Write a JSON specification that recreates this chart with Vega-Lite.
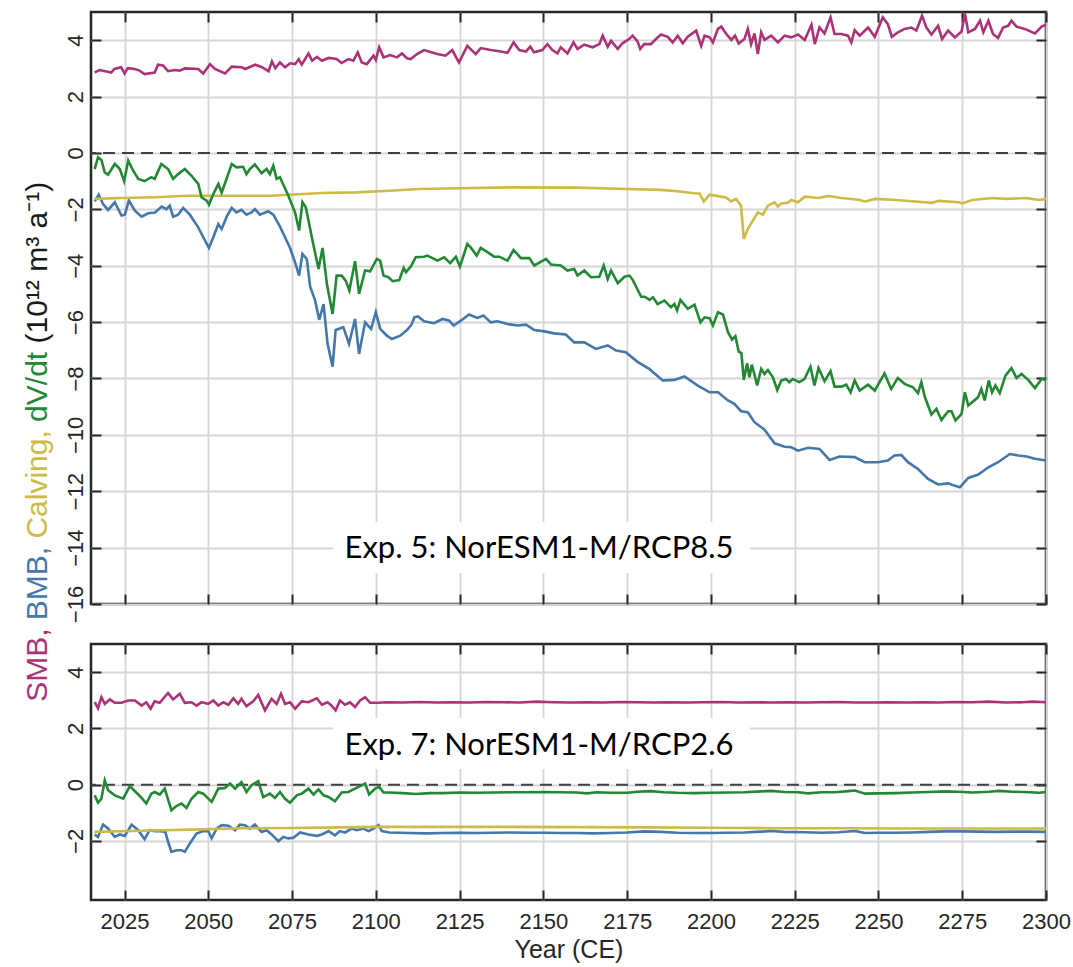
{
  "$schema": "https://vega.github.io/schema/vega-lite/v6.json",
  "background": "white",
  "padding": {"left": 21, "top": 6, "right": 5, "bottom": 5},
  "spacing": 40,
  "bounds": "flush",
  "config": {
    "view": {"stroke": "#262626", "strokeWidth": 2.5},
    "font": "Liberation Sans",
    "axis": {
      "domain": false,
      "tickColor": "#262626",
      "tickWidth": 2,
      "tickSize": -10,
      "gridColor": "#d6d6d6",
      "gridWidth": 1.8,
      "labelFont": "Liberation Sans",
      "labelFontSize": 22,
      "labelColor": "#262626",
      "labelFlush": false,
      "labelOverlap": false,
      "titleFont": "Liberation Sans",
      "titleFontSize": 25,
      "titleFontWeight": "normal",
      "titleColor": "#262626"
    }
  },
  "datasets": {
    "e5smb": [
      {"t":2016.1,"v":2.86},{"t":2017.6,"v":2.94},{"t":2021,"v":2.85},{"t":2022,"v":2.98},{"t":2024,"v":3.04},{"t":2025,"v":2.82},{"t":2026,"v":3.01},{"t":2028,"v":2.98},{"t":2029.5,"v":2.92},{"t":2031,"v":2.8},{"t":2034,"v":2.85},{"t":2035,"v":3.13},{"t":2036.5,"v":3.1},{"t":2038,"v":2.9},{"t":2040,"v":2.94},{"t":2041.5,"v":2.92},{"t":2043,"v":3.0},{"t":2047,"v":2.98},{"t":2048.5,"v":2.82},{"t":2050.5,"v":3.15},{"t":2052,"v":2.98},{"t":2055,"v":2.82},{"t":2057,"v":3.06},{"t":2060,"v":3.04},{"t":2061,"v":2.98},{"t":2064,"v":3.13},{"t":2066,"v":3.04},{"t":2068,"v":2.9},{"t":2069,"v":3.25},{"t":2070,"v":3.01},{"t":2071.4,"v":3.21},{"t":2072.9,"v":3.04},{"t":2074.4,"v":3.18},{"t":2075.9,"v":3.15},{"t":2077,"v":3.33},{"t":2077.9,"v":3.13},{"t":2079.9,"v":3.53},{"t":2081,"v":3.27},{"t":2082.4,"v":3.41},{"t":2083.9,"v":3.27},{"t":2085.9,"v":3.37},{"t":2088.3,"v":3.33},{"t":2089.8,"v":3.19},{"t":2091.8,"v":3.33},{"t":2093.3,"v":3.27},{"t":2094.6,"v":3.57},{"t":2095.8,"v":3.21},{"t":2097.3,"v":3.15},{"t":2099.3,"v":3.45},{"t":2100,"v":3.3},{"t":2101,"v":3.75},{"t":2102.3,"v":3.39},{"t":2104.3,"v":3.47},{"t":2106.3,"v":3.39},{"t":2107.8,"v":3.53},{"t":2109.3,"v":3.36},{"t":2110.4,"v":3.33},{"t":2112.3,"v":3.51},{"t":2114.4,"v":3.65},{"t":2118.3,"v":3.51},{"t":2120.8,"v":3.45},{"t":2122.8,"v":3.65},{"t":2124.8,"v":3.21},{"t":2127.3,"v":3.8},{"t":2129.8,"v":3.51},{"t":2131.3,"v":3.72},{"t":2134.3,"v":3.65},{"t":2137.3,"v":3.6},{"t":2139.3,"v":3.55},{"t":2141.1,"v":3.92},{"t":2142.8,"v":3.65},{"t":2144.8,"v":3.6},{"t":2146.1,"v":3.77},{"t":2147.2,"v":3.57},{"t":2149.7,"v":3.65},{"t":2151.2,"v":3.86},{"t":2152.7,"v":3.65},{"t":2154.2,"v":3.53},{"t":2155.2,"v":3.75},{"t":2157.2,"v":3.53},{"t":2159,"v":3.92},{"t":2160.2,"v":3.69},{"t":2162.2,"v":3.84},{"t":2164.7,"v":3.75},{"t":2166.7,"v":3.86},{"t":2167.7,"v":4.16},{"t":2169.2,"v":3.77},{"t":2170.2,"v":3.98},{"t":2172.2,"v":3.69},{"t":2173.6,"v":3.89},{"t":2175.6,"v":4.04},{"t":2176.6,"v":4.16},{"t":2178.1,"v":3.96},{"t":2178.9,"v":3.69},{"t":2180.1,"v":3.86},{"t":2182.1,"v":3.86},{"t":2183.6,"v":4.04},{"t":2185.1,"v":4.2},{"t":2187.1,"v":4.12},{"t":2188.6,"v":3.92},{"t":2190.1,"v":4.16},{"t":2191.6,"v":3.89},{"t":2193.1,"v":4.12},{"t":2195.6,"v":4.34},{"t":2197.1,"v":3.8},{"t":2198.1,"v":4.16},{"t":2199.6,"v":4.1},{"t":2200.6,"v":3.92},{"t":2202.1,"v":4.4},{"t":2203.1,"v":4.48},{"t":2204.6,"v":4.22},{"t":2206.1,"v":4.01},{"t":2207.2,"v":4.16},{"t":2208.3,"v":3.88},{"t":2210,"v":4.04},{"t":2211,"v":4.4},{"t":2212,"v":3.86},{"t":2213,"v":4.24},{"t":2214,"v":3.51},{"t":2215,"v":4.28},{"t":2216,"v":4.01},{"t":2218,"v":4.16},{"t":2220,"v":3.92},{"t":2222,"v":4.16},{"t":2224,"v":4.1},{"t":2226,"v":4.2},{"t":2228,"v":4.01},{"t":2230,"v":4.55},{"t":2231,"v":3.86},{"t":2232.4,"v":4.45},{"t":2233.9,"v":4.24},{"t":2235.7,"v":4.81},{"t":2236.9,"v":4.22},{"t":2238.9,"v":4.22},{"t":2240.9,"v":4.16},{"t":2241.9,"v":3.92},{"t":2242.9,"v":4.36},{"t":2244.4,"v":4.16},{"t":2246.9,"v":4.45},{"t":2248.9,"v":4.12},{"t":2251.3,"v":4.81},{"t":2252.8,"v":4.57},{"t":2254,"v":4.12},{"t":2255.8,"v":4.28},{"t":2257.8,"v":4.4},{"t":2259.8,"v":4.45},{"t":2261.3,"v":4.34},{"t":2263,"v":4.87},{"t":2264.3,"v":4.45},{"t":2265.8,"v":4.2},{"t":2267.8,"v":4.51},{"t":2269,"v":4.04},{"t":2270.8,"v":4.34},{"t":2272.8,"v":4.1},{"t":2274.8,"v":4.31},{"t":2275.8,"v":4.95},{"t":2276.8,"v":4.28},{"t":2278.8,"v":4.4},{"t":2280.3,"v":4.69},{"t":2281.3,"v":4.28},{"t":2282.8,"v":4.69},{"t":2284.2,"v":4.22},{"t":2285.7,"v":4.08},{"t":2287.2,"v":4.45},{"t":2288.7,"v":4.51},{"t":2289.7,"v":4.69},{"t":2291.2,"v":4.48},{"t":2293.7,"v":4.4},{"t":2296.7,"v":4.24},{"t":2298.7,"v":4.48},{"t":2300,"v":4.55}
    ],
    "e5cal": [
      {"t":2016,"v":-1.63},{"t":2024,"v":-1.6},{"t":2034,"v":-1.57},{"t":2044,"v":-1.52},{"t":2059,"v":-1.52},{"t":2069,"v":-1.52},{"t":2074,"v":-1.48},{"t":2084,"v":-1.42},{"t":2094,"v":-1.4},{"t":2104,"v":-1.34},{"t":2113,"v":-1.28},{"t":2125,"v":-1.25},{"t":2140,"v":-1.22},{"t":2160,"v":-1.23},{"t":2175,"v":-1.28},{"t":2185,"v":-1.31},{"t":2190,"v":-1.36},{"t":2193,"v":-1.4},{"t":2195,"v":-1.43},{"t":2196.6,"v":-1.44},{"t":2197.9,"v":-1.72},{"t":2199.6,"v":-1.48},{"t":2203,"v":-1.55},{"t":2204.5,"v":-1.58},{"t":2206,"v":-1.72},{"t":2207.5,"v":-1.63},{"t":2209,"v":-1.87},{"t":2209.8,"v":-3.05},{"t":2211,"v":-2.7},{"t":2214,"v":-2.11},{"t":2215.5,"v":-2.19},{"t":2217,"v":-1.87},{"t":2219,"v":-1.75},{"t":2220,"v":-1.9},{"t":2221,"v":-1.79},{"t":2223,"v":-1.77},{"t":2224,"v":-1.67},{"t":2226,"v":-1.75},{"t":2228,"v":-1.55},{"t":2232,"v":-1.6},{"t":2235,"v":-1.53},{"t":2239,"v":-1.6},{"t":2244,"v":-1.66},{"t":2246,"v":-1.72},{"t":2249,"v":-1.63},{"t":2254,"v":-1.66},{"t":2261,"v":-1.72},{"t":2266,"v":-1.77},{"t":2268,"v":-1.7},{"t":2274,"v":-1.75},{"t":2275,"v":-1.79},{"t":2278,"v":-1.67},{"t":2284,"v":-1.6},{"t":2288,"v":-1.63},{"t":2294,"v":-1.6},{"t":2298,"v":-1.67},{"t":2300,"v":-1.63}
    ],
    "e5dvdt": [
      {"t":2016.1,"v":-0.57},{"t":2017.1,"v":-0.15},{"t":2018.1,"v":-0.25},{"t":2019.1,"v":-0.69},{"t":2020.1,"v":-0.77},{"t":2022.1,"v":-0.39},{"t":2023.6,"v":-0.57},{"t":2024.9,"v":-1.0},{"t":2026.1,"v":-0.27},{"t":2027.6,"v":-0.63},{"t":2029.1,"v":-0.92},{"t":2031,"v":-1.0},{"t":2033,"v":-0.86},{"t":2034,"v":-0.92},{"t":2036,"v":-0.39},{"t":2038,"v":-0.57},{"t":2039.5,"v":-0.92},{"t":2041,"v":-0.75},{"t":2043,"v":-0.57},{"t":2045,"v":-0.81},{"t":2047,"v":-1.1},{"t":2048,"v":-1.57},{"t":2049.5,"v":-1.69},{"t":2050.2,"v":-1.83},{"t":2051.5,"v":-1.46},{"t":2053,"v":-1.1},{"t":2054,"v":-1.4},{"t":2057,"v":-0.39},{"t":2058.4,"v":-0.51},{"t":2060.4,"v":-0.49},{"t":2061.4,"v":-0.75},{"t":2062.4,"v":-0.57},{"t":2063.9,"v":-0.41},{"t":2065.9,"v":-0.72},{"t":2067.4,"v":-0.57},{"t":2068.4,"v":-0.75},{"t":2069.4,"v":-0.45},{"t":2070.4,"v":-0.92},{"t":2071.4,"v":-0.86},{"t":2073.9,"v":-1.52},{"t":2075.9,"v":-2.11},{"t":2077.1,"v":-2.75},{"t":2078.1,"v":-1.75},{"t":2079.1,"v":-1.93},{"t":2080.9,"v":-2.99},{"t":2082.9,"v":-4.12},{"t":2084.1,"v":-3.37},{"t":2085.4,"v":-4.65},{"t":2087.1,"v":-5.71},{"t":2088.3,"v":-4.35},{"t":2089.8,"v":-4.35},{"t":2091,"v":-4.53},{"t":2092.1,"v":-4.88},{"t":2093.8,"v":-3.84},{"t":2095,"v":-5.0},{"t":2096.8,"v":-4.17},{"t":2098.3,"v":-4.2},{"t":2100.3,"v":-3.76},{"t":2101.3,"v":-3.82},{"t":2102.3,"v":-4.35},{"t":2103.8,"v":-4.41},{"t":2105,"v":-4.55},{"t":2107,"v":-4.51},{"t":2108.3,"v":-4.08},{"t":2109,"v":-4.23},{"t":2110.6,"v":-4.0},{"t":2111.9,"v":-3.7},{"t":2114.4,"v":-3.68},{"t":2115.4,"v":-3.64},{"t":2118.4,"v":-3.82},{"t":2120.4,"v":-3.7},{"t":2122.2,"v":-3.91},{"t":2123.9,"v":-3.68},{"t":2125.1,"v":-4.03},{"t":2127.3,"v":-3.23},{"t":2128.3,"v":-3.35},{"t":2130.1,"v":-3.64},{"t":2131.3,"v":-3.37},{"t":2133.3,"v":-3.52},{"t":2135.3,"v":-3.68},{"t":2136.8,"v":-3.68},{"t":2139.3,"v":-3.82},{"t":2141.1,"v":-3.44},{"t":2143.3,"v":-3.73},{"t":2145.8,"v":-3.73},{"t":2147.3,"v":-3.99},{"t":2150.8,"v":-3.76},{"t":2152.3,"v":-3.96},{"t":2155.2,"v":-3.99},{"t":2157.2,"v":-4.17},{"t":2159.2,"v":-4.12},{"t":2160.2,"v":-4.35},{"t":2162.2,"v":-4.17},{"t":2164.2,"v":-4.41},{"t":2166.7,"v":-4.39},{"t":2168,"v":-3.99},{"t":2169.2,"v":-4.47},{"t":2170.2,"v":-4.17},{"t":2172.2,"v":-4.62},{"t":2174.2,"v":-4.39},{"t":2175.7,"v":-4.35},{"t":2176.7,"v":-4.51},{"t":2179.2,"v":-5.1},{"t":2180.2,"v":-5.1},{"t":2181.7,"v":-5.21},{"t":2182.7,"v":-5.12},{"t":2184.1,"v":-5.36},{"t":2186.1,"v":-5.24},{"t":2188.1,"v":-5.47},{"t":2189.1,"v":-5.36},{"t":2189.9,"v":-5.59},{"t":2190.9,"v":-5.21},{"t":2193.1,"v":-5.53},{"t":2195.1,"v":-5.38},{"t":2196.9,"v":-6.01},{"t":2198.1,"v":-5.83},{"t":2199.6,"v":-5.86},{"t":2200.6,"v":-6.12},{"t":2202.1,"v":-5.65},{"t":2203.6,"v":-5.73},{"t":2205.1,"v":-6.36},{"t":2206.3,"v":-6.62},{"t":2207.3,"v":-6.5},{"t":2208.3,"v":-7.05},{"t":2209.1,"v":-7.1},{"t":2209.8,"v":-8.05},{"t":2210.8,"v":-7.46},{"t":2211.5,"v":-7.96},{"t":2212.2,"v":-7.51},{"t":2213,"v":-7.86},{"t":2213.8,"v":-8.25},{"t":2215,"v":-7.66},{"t":2216,"v":-7.84},{"t":2217,"v":-7.7},{"t":2218.5,"v":-7.96},{"t":2219.8,"v":-8.41},{"t":2221,"v":-8.07},{"t":2222.4,"v":-8.02},{"t":2223.4,"v":-8.13},{"t":2224.4,"v":-8.02},{"t":2226.4,"v":-8.13},{"t":2227.9,"v":-8.02},{"t":2229.7,"v":-7.58},{"t":2230.9,"v":-8.25},{"t":2232.1,"v":-7.63},{"t":2233.9,"v":-8.1},{"t":2235.7,"v":-7.74},{"t":2236.9,"v":-8.29},{"t":2238.9,"v":-8.29},{"t":2240.4,"v":-8.22},{"t":2241.7,"v":-8.49},{"t":2242.9,"v":-8.07},{"t":2244.4,"v":-8.43},{"t":2246.9,"v":-8.22},{"t":2248.9,"v":-8.43},{"t":2250.3,"v":-8.13},{"t":2251.8,"v":-7.82},{"t":2253.8,"v":-8.37},{"t":2255.8,"v":-7.98},{"t":2257.8,"v":-8.19},{"t":2260.3,"v":-8.31},{"t":2261.8,"v":-8.52},{"t":2262.8,"v":-8.13},{"t":2263.8,"v":-8.64},{"t":2265.8,"v":-9.28},{"t":2267.3,"v":-9.08},{"t":2268.8,"v":-9.47},{"t":2270.8,"v":-9.16},{"t":2271.8,"v":-9.16},{"t":2273,"v":-9.49},{"t":2274.8,"v":-9.26},{"t":2275.8,"v":-8.49},{"t":2276.8,"v":-8.96},{"t":2279.7,"v":-8.67},{"t":2280.7,"v":-8.37},{"t":2281.7,"v":-8.78},{"t":2282.9,"v":-8.07},{"t":2283.9,"v":-8.49},{"t":2284.9,"v":-8.25},{"t":2286.2,"v":-8.52},{"t":2287.9,"v":-7.9},{"t":2289.7,"v":-7.63},{"t":2291.2,"v":-7.98},{"t":2292.7,"v":-7.84},{"t":2294.7,"v":-8.05},{"t":2296.7,"v":-8.34},{"t":2298.7,"v":-8.02},{"t":2300,"v":-8.05}
    ],
    "e5bmb": [
      {"t":2016.1,"v":-1.72},{"t":2017.3,"v":-1.48},{"t":2018.6,"v":-1.81},{"t":2020.1,"v":-2.02},{"t":2022.1,"v":-1.75},{"t":2024.1,"v":-2.22},{"t":2025.1,"v":-2.19},{"t":2026.3,"v":-1.69},{"t":2028.1,"v":-2.05},{"t":2030.1,"v":-2.26},{"t":2032.1,"v":-2.14},{"t":2034.1,"v":-2.11},{"t":2036.1,"v":-1.9},{"t":2037.5,"v":-1.99},{"t":2038.5,"v":-1.87},{"t":2039.5,"v":-2.26},{"t":2041,"v":-2.19},{"t":2042.5,"v":-1.95},{"t":2044.5,"v":-2.19},{"t":2047,"v":-2.64},{"t":2048.5,"v":-2.99},{"t":2050.2,"v":-3.37},{"t":2051.5,"v":-2.99},{"t":2053,"v":-2.52},{"t":2054,"v":-2.7},{"t":2055.5,"v":-2.26},{"t":2057,"v":-1.95},{"t":2058.4,"v":-2.11},{"t":2059.9,"v":-2.02},{"t":2061.4,"v":-2.19},{"t":2062.9,"v":-2.11},{"t":2063.9,"v":-1.99},{"t":2065.4,"v":-2.19},{"t":2067.9,"v":-2.07},{"t":2069.4,"v":-2.19},{"t":2071.4,"v":-2.61},{"t":2072.9,"v":-2.99},{"t":2074.4,"v":-3.37},{"t":2075.9,"v":-3.88},{"t":2077.1,"v":-4.35},{"t":2078.1,"v":-3.58},{"t":2079.4,"v":-3.76},{"t":2080.4,"v":-4.74},{"t":2081.9,"v":-5.24},{"t":2083.1,"v":-5.92},{"t":2084.4,"v":-5.36},{"t":2085.6,"v":-6.77},{"t":2087.1,"v":-7.58},{"t":2088,"v":-6.28},{"t":2090.3,"v":-6.18},{"t":2092,"v":-6.77},{"t":2093.8,"v":-5.89},{"t":2095,"v":-7.13},{"t":2096.8,"v":-6.01},{"t":2098.6,"v":-6.24},{"t":2100,"v":-5.65},{"t":2101.3,"v":-6.24},{"t":2103.3,"v":-6.48},{"t":2104.8,"v":-6.6},{"t":2107.3,"v":-6.48},{"t":2109.3,"v":-6.28},{"t":2110.6,"v":-6.1},{"t":2111.5,"v":-5.83},{"t":2112.6,"v":-5.8},{"t":2114.4,"v":-5.97},{"t":2117.4,"v":-6.04},{"t":2119.9,"v":-5.89},{"t":2121.9,"v":-5.95},{"t":2123.2,"v":-6.12},{"t":2125.4,"v":-5.95},{"t":2127.8,"v":-5.73},{"t":2130.3,"v":-5.85},{"t":2132.1,"v":-5.77},{"t":2134.3,"v":-6.01},{"t":2136.3,"v":-5.97},{"t":2139.3,"v":-6.07},{"t":2142.3,"v":-6.12},{"t":2144.8,"v":-6.09},{"t":2147.3,"v":-6.28},{"t":2150.3,"v":-6.33},{"t":2153.2,"v":-6.4},{"t":2156.7,"v":-6.44},{"t":2159.2,"v":-6.72},{"t":2162.2,"v":-6.72},{"t":2165.7,"v":-6.95},{"t":2169.2,"v":-6.83},{"t":2171.7,"v":-7.01},{"t":2174.6,"v":-7.07},{"t":2178.2,"v":-7.42},{"t":2181.6,"v":-7.66},{"t":2185.6,"v":-8.07},{"t":2189.1,"v":-8.05},{"t":2192.1,"v":-7.93},{"t":2196.1,"v":-8.25},{"t":2199.6,"v":-8.49},{"t":2202.1,"v":-8.49},{"t":2205.1,"v":-8.78},{"t":2207,"v":-8.9},{"t":2209,"v":-9.16},{"t":2211,"v":-9.2},{"t":2213,"v":-9.55},{"t":2216,"v":-9.82},{"t":2219,"v":-10.3},{"t":2222,"v":-10.42},{"t":2224,"v":-10.44},{"t":2226,"v":-10.56},{"t":2229,"v":-10.46},{"t":2232.4,"v":-10.5},{"t":2235.4,"v":-10.89},{"t":2238.4,"v":-10.77},{"t":2242.9,"v":-10.79},{"t":2245.9,"v":-10.97},{"t":2249.9,"v":-10.97},{"t":2252.8,"v":-10.91},{"t":2254.8,"v":-10.73},{"t":2256.8,"v":-10.71},{"t":2258.8,"v":-10.97},{"t":2261.8,"v":-11.21},{"t":2264.8,"v":-11.56},{"t":2267.8,"v":-11.76},{"t":2270.8,"v":-11.72},{"t":2272.6,"v":-11.8},{"t":2274.3,"v":-11.86},{"t":2276.8,"v":-11.53},{"t":2279.8,"v":-11.41},{"t":2282.8,"v":-11.15},{"t":2285.7,"v":-10.97},{"t":2289.2,"v":-10.68},{"t":2291.7,"v":-10.73},{"t":2294.2,"v":-10.77},{"t":2296.7,"v":-10.85},{"t":2300,"v":-10.91}
    ],
    "e7smb": [
      {"t":2016.1,"v":2.93},{"t":2017.1,"v":2.72},{"t":2018.1,"v":3.11},{"t":2019.1,"v":2.87},{"t":2020.6,"v":3.03},{"t":2022.1,"v":2.91},{"t":2024.1,"v":2.91},{"t":2026.1,"v":2.99},{"t":2028.1,"v":2.99},{"t":2030.1,"v":2.81},{"t":2031.5,"v":2.93},{"t":2032.8,"v":2.7},{"t":2034,"v":2.96},{"t":2035.5,"v":2.91},{"t":2038,"v":3.26},{"t":2039.5,"v":3.03},{"t":2041.5,"v":3.23},{"t":2043,"v":2.91},{"t":2045,"v":2.93},{"t":2046.5,"v":2.81},{"t":2048,"v":2.93},{"t":2050,"v":2.87},{"t":2051.5,"v":2.99},{"t":2053,"v":2.81},{"t":2054.5,"v":2.93},{"t":2056,"v":2.84},{"t":2057.5,"v":3.07},{"t":2058.9,"v":2.87},{"t":2059.9,"v":3.05},{"t":2061.4,"v":2.79},{"t":2063.4,"v":2.96},{"t":2064.9,"v":3.19},{"t":2066.9,"v":2.64},{"t":2068.9,"v":3.05},{"t":2070.4,"v":2.87},{"t":2071.7,"v":3.23},{"t":2072.9,"v":2.87},{"t":2074.4,"v":2.93},{"t":2075.9,"v":2.7},{"t":2077.9,"v":2.96},{"t":2079.9,"v":2.93},{"t":2082.4,"v":3.07},{"t":2083.9,"v":2.84},{"t":2085.6,"v":2.93},{"t":2086.8,"v":2.81},{"t":2088,"v":2.64},{"t":2089.3,"v":2.99},{"t":2090.8,"v":2.84},{"t":2092.3,"v":2.93},{"t":2093.8,"v":2.76},{"t":2095.3,"v":2.99},{"t":2096.8,"v":3.11},{"t":2098.3,"v":2.91},{"t":2100.8,"v":2.91},{"t":2103,"v":2.93},{"t":2108,"v":2.92},{"t":2113,"v":2.94},{"t":2118,"v":2.92},{"t":2123,"v":2.93},{"t":2128,"v":2.92},{"t":2133,"v":2.94},{"t":2138,"v":2.93},{"t":2143,"v":2.92},{"t":2148,"v":2.95},{"t":2153,"v":2.93},{"t":2158,"v":2.92},{"t":2163,"v":2.93},{"t":2168,"v":2.92},{"t":2173,"v":2.94},{"t":2178,"v":2.93},{"t":2183,"v":2.92},{"t":2188,"v":2.93},{"t":2193,"v":2.92},{"t":2198,"v":2.93},{"t":2203,"v":2.94},{"t":2208,"v":2.92},{"t":2213,"v":2.93},{"t":2218,"v":2.92},{"t":2223,"v":2.93},{"t":2228,"v":2.92},{"t":2233,"v":2.93},{"t":2238,"v":2.94},{"t":2243,"v":2.92},{"t":2248,"v":2.92},{"t":2253,"v":2.93},{"t":2258,"v":2.92},{"t":2263,"v":2.93},{"t":2268,"v":2.92},{"t":2273,"v":2.94},{"t":2278,"v":2.93},{"t":2283,"v":2.95},{"t":2288,"v":2.92},{"t":2293,"v":2.93},{"t":2296,"v":2.95},{"t":2300,"v":2.93}
    ],
    "e7cal": [
      {"t":2016,"v":-1.68},{"t":2030,"v":-1.64},{"t":2045,"v":-1.6},{"t":2060,"v":-1.55},{"t":2075,"v":-1.54},{"t":2090,"v":-1.52},{"t":2100,"v":-1.5},{"t":2120,"v":-1.5},{"t":2140,"v":-1.5},{"t":2160,"v":-1.51},{"t":2180,"v":-1.52},{"t":2200,"v":-1.53},{"t":2220,"v":-1.55},{"t":2240,"v":-1.55},{"t":2260,"v":-1.56},{"t":2280,"v":-1.56},{"t":2300,"v":-1.56}
    ],
    "e7dvdt": [
      {"t":2016.1,"v":-0.38},{"t":2017.1,"v":-0.64},{"t":2018.1,"v":-0.5},{"t":2019.1,"v":0.15},{"t":2020.1,"v":-0.2},{"t":2022.1,"v":-0.38},{"t":2024.6,"v":-0.5},{"t":2026.6,"v":-0.05},{"t":2028.5,"v":-0.28},{"t":2030.1,"v":-0.47},{"t":2031.5,"v":-0.67},{"t":2033,"v":-0.32},{"t":2034,"v":-0.26},{"t":2035.5,"v":-0.35},{"t":2037,"v":-0.14},{"t":2039,"v":-0.91},{"t":2040.5,"v":-0.76},{"t":2042,"v":-0.67},{"t":2043.5,"v":-0.83},{"t":2045,"v":-0.5},{"t":2047,"v":-0.26},{"t":2048.5,"v":-0.32},{"t":2051,"v":-0.61},{"t":2053,"v":-0.14},{"t":2055,"v":-0.12},{"t":2056.5,"v":0.04},{"t":2058,"v":-0.14},{"t":2059.9,"v":0.09},{"t":2061.4,"v":-0.26},{"t":2062.9,"v":-0.02},{"t":2064.9,"v":0.12},{"t":2066.4,"v":-0.44},{"t":2068.4,"v":-0.32},{"t":2069.9,"v":-0.47},{"t":2071.4,"v":-0.26},{"t":2072.9,"v":-0.5},{"t":2074.4,"v":-0.64},{"t":2076.4,"v":-0.38},{"t":2077.9,"v":-0.32},{"t":2079.9,"v":-0.14},{"t":2081.4,"v":-0.35},{"t":2082.9,"v":-0.17},{"t":2084.4,"v":-0.38},{"t":2085.9,"v":-0.44},{"t":2087.8,"v":-0.59},{"t":2089.8,"v":-0.28},{"t":2091.8,"v":-0.26},{"t":2093.8,"v":-0.14},{"t":2095.3,"v":-0.05},{"t":2096.8,"v":0.04},{"t":2098,"v":-0.35},{"t":2099.8,"v":-0.14},{"t":2101,"v":-0.08},{"t":2102.3,"v":-0.28},{"t":2104,"v":-0.28},{"t":2108,"v":-0.3},{"t":2112,"v":-0.33},{"t":2116,"v":-0.3},{"t":2120,"v":-0.3},{"t":2125,"v":-0.28},{"t":2130,"v":-0.29},{"t":2135,"v":-0.28},{"t":2140,"v":-0.27},{"t":2145,"v":-0.27},{"t":2150,"v":-0.26},{"t":2155,"v":-0.27},{"t":2160,"v":-0.28},{"t":2163,"v":-0.31},{"t":2166,"v":-0.27},{"t":2170,"v":-0.29},{"t":2175,"v":-0.29},{"t":2178,"v":-0.25},{"t":2182,"v":-0.23},{"t":2186,"v":-0.27},{"t":2190,"v":-0.29},{"t":2195,"v":-0.3},{"t":2200,"v":-0.29},{"t":2205,"v":-0.28},{"t":2210,"v":-0.27},{"t":2215,"v":-0.24},{"t":2218,"v":-0.22},{"t":2222,"v":-0.26},{"t":2226,"v":-0.27},{"t":2229,"v":-0.31},{"t":2233,"v":-0.27},{"t":2237,"v":-0.27},{"t":2241,"v":-0.23},{"t":2243,"v":-0.21},{"t":2246,"v":-0.32},{"t":2250,"v":-0.31},{"t":2255,"v":-0.3},{"t":2260,"v":-0.28},{"t":2265,"v":-0.26},{"t":2270,"v":-0.24},{"t":2274,"v":-0.25},{"t":2278,"v":-0.28},{"t":2283,"v":-0.25},{"t":2286,"v":-0.22},{"t":2290,"v":-0.25},{"t":2295,"v":-0.27},{"t":2298,"v":-0.29},{"t":2300,"v":-0.26}
    ],
    "e7bmb": [
      {"t":2016.1,"v":-1.77},{"t":2017.1,"v":-1.86},{"t":2018.6,"v":-1.42},{"t":2020.1,"v":-1.56},{"t":2022.1,"v":-1.86},{"t":2023.6,"v":-1.77},{"t":2025.1,"v":-1.82},{"t":2027.1,"v":-1.42},{"t":2029.1,"v":-1.62},{"t":2031,"v":-1.94},{"t":2032.5,"v":-1.62},{"t":2034,"v":-1.65},{"t":2035.5,"v":-1.65},{"t":2037.2,"v":-1.68},{"t":2038,"v":-2.03},{"t":2039,"v":-2.39},{"t":2040.5,"v":-2.33},{"t":2042,"v":-2.33},{"t":2043,"v":-2.39},{"t":2044.5,"v":-2.09},{"t":2046.5,"v":-1.74},{"t":2048.5,"v":-1.65},{"t":2050,"v":-1.65},{"t":2051,"v":-1.91},{"t":2052.5,"v":-1.56},{"t":2054,"v":-1.44},{"t":2056,"v":-1.46},{"t":2058,"v":-1.62},{"t":2059.4,"v":-1.42},{"t":2060.9,"v":-1.44},{"t":2062.4,"v":-1.56},{"t":2063.9,"v":-1.42},{"t":2065.9,"v":-1.68},{"t":2067.4,"v":-1.62},{"t":2068.9,"v":-1.77},{"t":2070.9,"v":-2.01},{"t":2072.4,"v":-1.86},{"t":2073.9,"v":-1.91},{"t":2075.4,"v":-1.89},{"t":2077.4,"v":-1.7},{"t":2079.9,"v":-1.77},{"t":2082.4,"v":-1.82},{"t":2083.9,"v":-1.77},{"t":2085.9,"v":-1.65},{"t":2087.8,"v":-1.8},{"t":2089.3,"v":-1.65},{"t":2090.8,"v":-1.7},{"t":2092.8,"v":-1.56},{"t":2094.3,"v":-1.62},{"t":2096.3,"v":-1.56},{"t":2097.8,"v":-1.65},{"t":2099.3,"v":-1.56},{"t":2100.8,"v":-1.44},{"t":2101.8,"v":-1.65},{"t":2104,"v":-1.7},{"t":2110,"v":-1.72},{"t":2115,"v":-1.73},{"t":2120,"v":-1.72},{"t":2125,"v":-1.71},{"t":2130,"v":-1.72},{"t":2135,"v":-1.71},{"t":2140,"v":-1.7},{"t":2145,"v":-1.71},{"t":2150,"v":-1.71},{"t":2155,"v":-1.72},{"t":2160,"v":-1.72},{"t":2165,"v":-1.73},{"t":2170,"v":-1.72},{"t":2175,"v":-1.7},{"t":2180,"v":-1.66},{"t":2185,"v":-1.68},{"t":2190,"v":-1.71},{"t":2195,"v":-1.72},{"t":2200,"v":-1.72},{"t":2205,"v":-1.71},{"t":2210,"v":-1.7},{"t":2215,"v":-1.67},{"t":2218,"v":-1.65},{"t":2222,"v":-1.68},{"t":2228,"v":-1.69},{"t":2233,"v":-1.71},{"t":2238,"v":-1.69},{"t":2243,"v":-1.65},{"t":2246,"v":-1.72},{"t":2250,"v":-1.71},{"t":2255,"v":-1.71},{"t":2260,"v":-1.7},{"t":2265,"v":-1.68},{"t":2270,"v":-1.66},{"t":2275,"v":-1.66},{"t":2280,"v":-1.67},{"t":2285,"v":-1.68},{"t":2290,"v":-1.67},{"t":2295,"v":-1.67},{"t":2300,"v":-1.68}
    ]
  },
  "vconcat": [
    {
      "width": 955,
      "height": 592,
      "layer": [
        {
          "data": {"values": [{}]},
          "mark": {"type": "rect", "color": "white"},
          "encoding": {
            "x": {"datum": 2087.3, "type": "quantitative", "scale": {"domain": [2015, 2300], "nice": false, "zero": false},
                  "axis": {"orient": "bottom", "values": [2025,2050,2075,2100,2125,2150,2175,2200,2225,2250,2275,2300], "labels": false, "grid": true, "title": null}},
            "x2": {"datum": 2211.7},
            "y": {"datum": -13.09, "type": "quantitative", "scale": {"domain": [-16, 5], "nice": false, "zero": false},
                  "axis": {"orient": "left", "values": [-16,-14,-12,-10,-8,-6,-4,-2,0,2,4], "grid": true, "title": null, "labelAngle": 270, "labelAlign": "center", "labelBaseline": "alphabetic", "labelPadding": 19}},
            "y2": {"datum": -14.9}
          }
        },
        {
          "data": {"values": [{}]},
          "mark": {"type": "rule", "color": "#404040", "strokeWidth": 2, "strokeDash": [12, 7]},
          "encoding": {
            "y": {"datum": 0, "type": "quantitative",
                  "axis": {"orient": "right", "values": [-16,-14,-12,-10,-8,-6,-4,-2,0,2,4], "labels": false, "grid": false, "title": null}}
          }
        },
        {
          "data": {"name": "e5smb"},
          "mark": {"type": "line", "color": "#AA3377", "strokeWidth": 2.6},
          "encoding": {"x": {"field": "t", "type": "quantitative", "axis": null}, "y": {"field": "v", "type": "quantitative", "axis": null}}
        },
        {
          "data": {"name": "e5bmb"},
          "mark": {"type": "line", "color": "#4477AA", "strokeWidth": 2.6},
          "encoding": {"x": {"field": "t", "type": "quantitative", "axis": null}, "y": {"field": "v", "type": "quantitative", "axis": null}}
        },
        {
          "data": {"name": "e5cal"},
          "mark": {"type": "line", "color": "#CCBB44", "strokeWidth": 2.6},
          "encoding": {"x": {"field": "t", "type": "quantitative", "axis": null}, "y": {"field": "v", "type": "quantitative", "axis": null}}
        },
        {
          "data": {"name": "e5dvdt"},
          "mark": {"type": "line", "color": "#228833", "strokeWidth": 2.6},
          "encoding": {"x": {"field": "t", "type": "quantitative", "axis": null}, "y": {"field": "v", "type": "quantitative", "axis": null}}
        },
        {
          "data": {"values": [{}]},
          "mark": {"type": "text", "text": "Exp. 5: NorESM1-M/RCP8.5", "font": "Lato", "fontSize": 31, "color": "#000000", "align": "center", "baseline": "alphabetic"},
          "encoding": {
            "x": {"datum": 2148.7, "type": "quantitative",
                  "axis": {"orient": "top", "values": [2025,2050,2075,2100,2125,2150,2175,2200,2225,2250,2275,2300], "labels": false, "grid": false, "title": null}},
            "y": {"datum": -14.36, "type": "quantitative", "axis": null}
          }
        },
        {
          "data": {"values": [{}]},
          "mark": {"type": "text", "text": "SMB,", "angle": 270, "align": "left", "baseline": "alphabetic", "font": "Liberation Sans", "fontSize": 30, "color": "#AA3377"},
          "encoding": {"x": {"datum": 2001.87, "type": "quantitative", "axis": null}, "y": {"datum": -19.47, "type": "quantitative", "axis": null}}
        },
        {
          "data": {"values": [{}]},
          "mark": {"type": "text", "text": "BMB,", "angle": 270, "align": "left", "baseline": "alphabetic", "font": "Liberation Sans", "fontSize": 30, "color": "#4477AA"},
          "encoding": {"x": {"datum": 2001.87, "type": "quantitative", "axis": null}, "y": {"datum": -16.58, "type": "quantitative", "axis": null}}
        },
        {
          "data": {"values": [{}]},
          "mark": {"type": "text", "text": "Calving,", "angle": 270, "align": "left", "baseline": "alphabetic", "font": "Liberation Sans", "fontSize": 30, "color": "#CCBB44"},
          "encoding": {"x": {"datum": 2001.87, "type": "quantitative", "axis": null}, "y": {"datum": -13.68, "type": "quantitative", "axis": null}}
        },
        {
          "data": {"values": [{}]},
          "mark": {"type": "text", "text": "dV/dt", "angle": 270, "align": "left", "baseline": "alphabetic", "font": "Liberation Sans", "fontSize": 30, "color": "#228833"},
          "encoding": {"x": {"datum": 2001.87, "type": "quantitative", "axis": null}, "y": {"datum": -9.54, "type": "quantitative", "axis": null}}
        },
        {
          "data": {"values": [{}]},
          "mark": {"type": "text", "text": "(10¹² m³ a⁻¹)", "angle": 270, "align": "left", "baseline": "alphabetic", "font": "Liberation Sans", "fontSize": 30, "color": "#1a1a1a"},
          "encoding": {"x": {"datum": 2001.87, "type": "quantitative", "axis": null}, "y": {"datum": -6.76, "type": "quantitative", "axis": null}}
        }
      ],
      "resolve": {"axis": {"x": "independent", "y": "independent"}}
    },
    {
      "width": 955,
      "height": 256,
      "layer": [
        {
          "data": {"values": [{}]},
          "mark": {"type": "rect", "color": "white"},
          "encoding": {
            "x": {"datum": 2087.3, "type": "quantitative", "scale": {"domain": [2015, 2300], "nice": false, "zero": false},
                  "axis": {"orient": "bottom", "values": [2025,2050,2075,2100,2125,2150,2175,2200,2225,2250,2275,2300], "grid": true, "title": "Year (CE)", "labelPadding": 21, "titlePadding": 5, "format": "d"}},
            "x2": {"datum": 2211.7},
            "y": {"datum": 2.37, "type": "quantitative", "scale": {"domain": [-4.1, 5], "nice": false, "zero": false},
                  "axis": {"orient": "left", "values": [-2,0,2,4], "grid": true, "title": null, "labelAngle": 270, "labelAlign": "center", "labelBaseline": "alphabetic", "labelPadding": 19}},
            "y2": {"datum": 0.56}
          }
        },
        {
          "data": {"values": [{}]},
          "mark": {"type": "rule", "color": "#404040", "strokeWidth": 2, "strokeDash": [12, 7]},
          "encoding": {
            "y": {"datum": 0, "type": "quantitative",
                  "axis": {"orient": "right", "values": [-2,0,2,4], "labels": false, "grid": false, "title": null}}
          }
        },
        {
          "data": {"name": "e7smb"},
          "mark": {"type": "line", "color": "#AA3377", "strokeWidth": 2.6},
          "encoding": {"x": {"field": "t", "type": "quantitative", "axis": null}, "y": {"field": "v", "type": "quantitative", "axis": null}}
        },
        {
          "data": {"name": "e7bmb"},
          "mark": {"type": "line", "color": "#4477AA", "strokeWidth": 2.6},
          "encoding": {"x": {"field": "t", "type": "quantitative", "axis": null}, "y": {"field": "v", "type": "quantitative", "axis": null}}
        },
        {
          "data": {"name": "e7cal"},
          "mark": {"type": "line", "color": "#CCBB44", "strokeWidth": 2.6},
          "encoding": {"x": {"field": "t", "type": "quantitative", "axis": null}, "y": {"field": "v", "type": "quantitative", "axis": null}}
        },
        {
          "data": {"name": "e7dvdt"},
          "mark": {"type": "line", "color": "#228833", "strokeWidth": 2.6},
          "encoding": {"x": {"field": "t", "type": "quantitative", "axis": null}, "y": {"field": "v", "type": "quantitative", "axis": null}}
        },
        {
          "data": {"values": [{}]},
          "mark": {"type": "text", "text": "Exp. 7: NorESM1-M/RCP2.6", "font": "Lato", "fontSize": 31, "color": "#000000", "align": "center", "baseline": "alphabetic"},
          "encoding": {
            "x": {"datum": 2148.7, "type": "quantitative",
                  "axis": {"orient": "top", "values": [2025,2050,2075,2100,2125,2150,2175,2200,2225,2250,2275,2300], "labels": false, "grid": false, "title": null}},
            "y": {"datum": 1.06, "type": "quantitative", "axis": null}
          }
        }
      ],
      "resolve": {"axis": {"x": "independent", "y": "independent"}}
    }
  ]
}
